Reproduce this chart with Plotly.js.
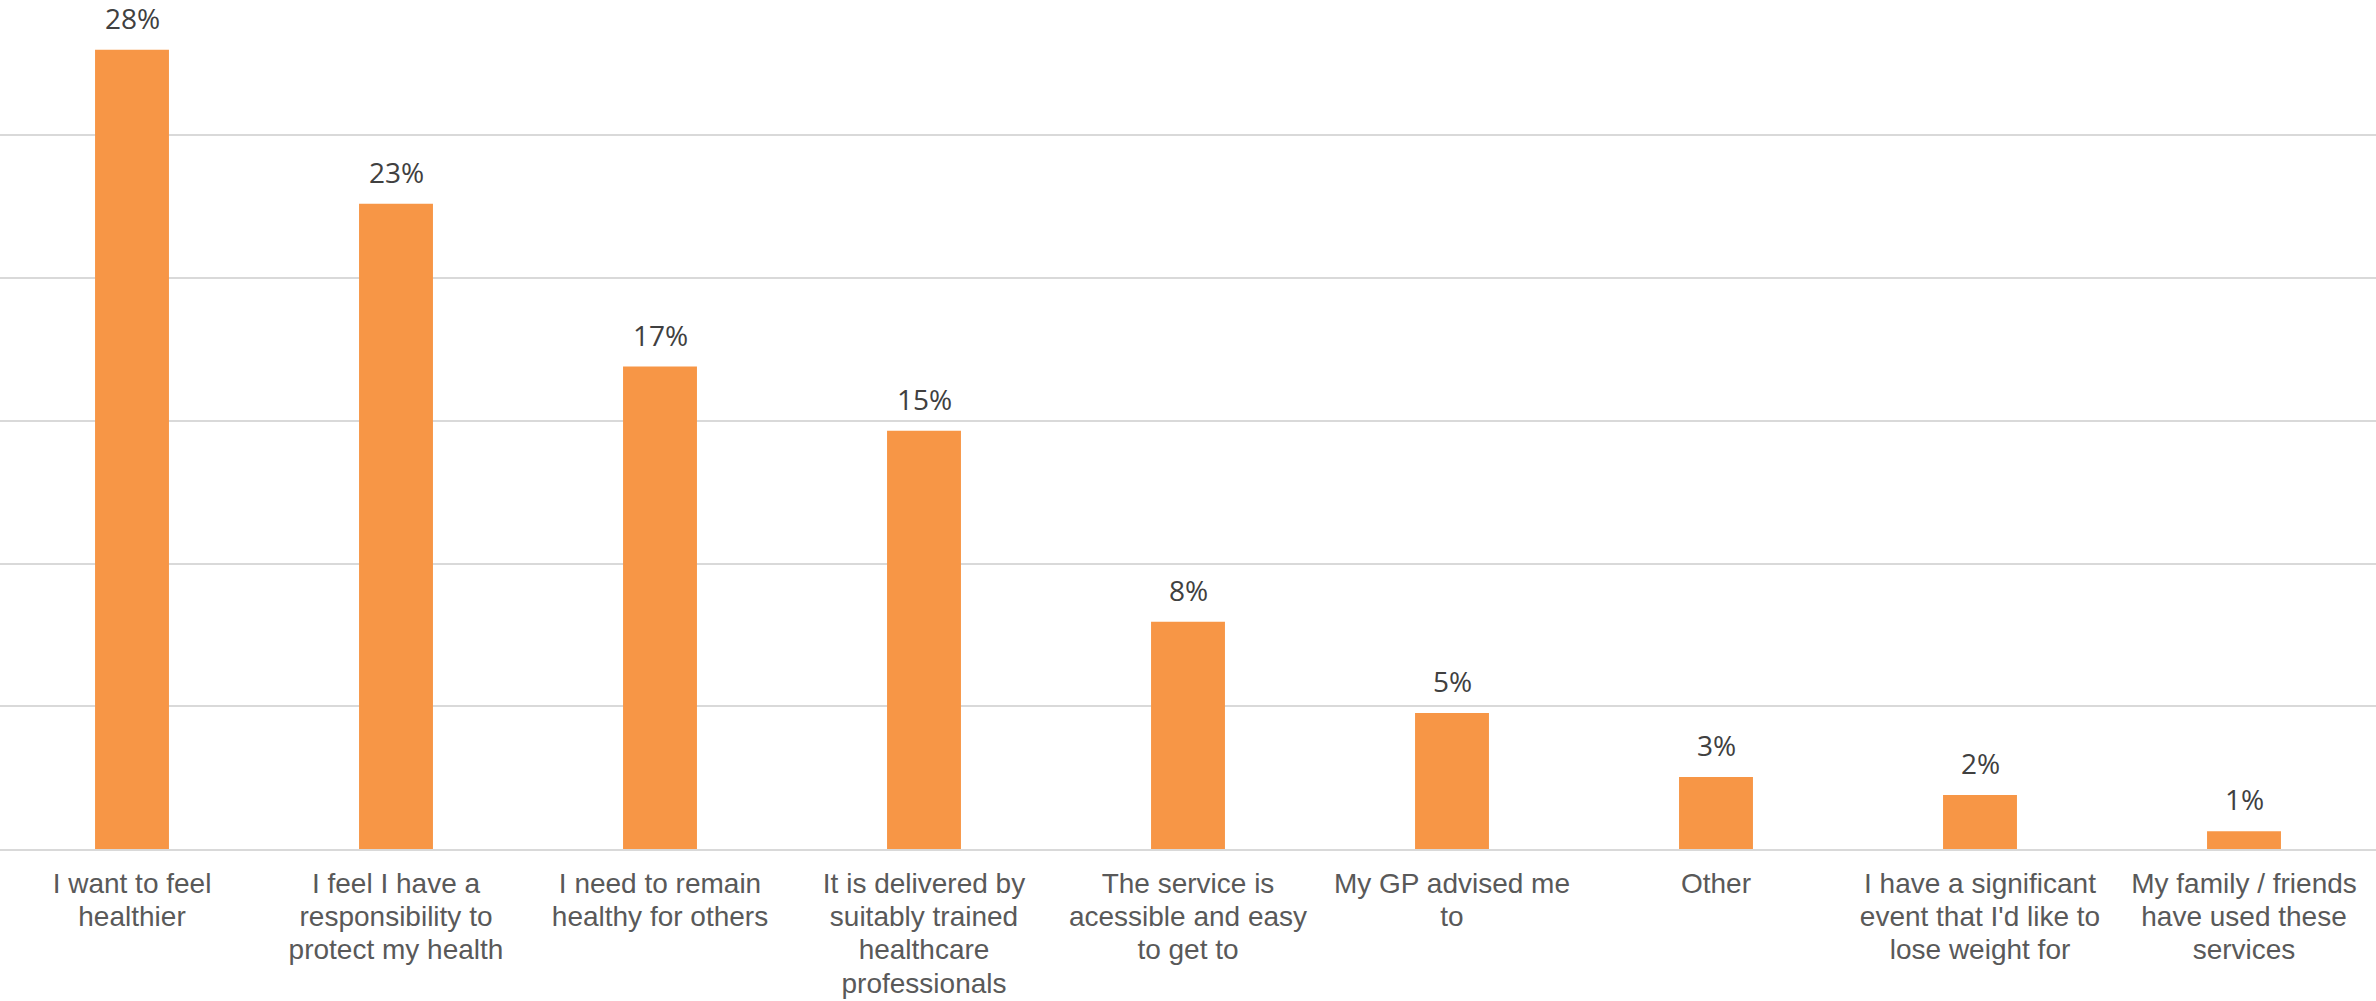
<!DOCTYPE html>
<html>
<head>
<meta charset="utf-8">
<script src="https://cdn.plot.ly/plotly-3.0.1.min.js"></script>
<style>html,body{margin:0;padding:0;background:#fff;}#chart{width:2376px;height:1001px;}</style>
</head>
<body>
<div id="chart"></div>
<script>
const categories = [
  "I want to feel<br>healthier",
  "I feel I have a<br>responsibility to<br>protect my health",
  "I need to remain<br>healthy for others",
  "It is delivered by<br>suitably trained<br>healthcare<br>professionals",
  "The service is<br>acessible and easy<br>to get to",
  "My GP advised me<br>to",
  "Other",
  "I have a significant<br>event that I'd like to<br>lose weight for",
  "My family / friends<br>have used these<br>services"
];
const values = [28.0, 22.6, 16.9, 14.65, 7.96, 4.76, 2.52, 1.89, 0.62];
const valueLabels = ["28%", "23%", "17%", "15%", "8%", "5%", "3%", "2%", "1%"];

const trace = {
  type: 'bar',
  x: categories,
  y: values,
  marker: {color: '#F79646'},
  hoverinfo: 'skip'
};

const annotations = categories.map((c, i) => ({
  x: c, y: values[i], xref: 'x', yref: 'y',
  text: valueLabels[i], showarrow: false,
  yanchor: 'bottom', yshift: 11,
  font: {family: 'Open Sans, sans-serif', size: 28, color: '#404040'}
}));

const layout = {
  width: 2376, height: 1001,
  margin: {l: 0, r: 0, t: 0, b: 152, pad: 0},
  paper_bgcolor: '#ffffff', plot_bgcolor: '#ffffff',
  showlegend: false,
  bargap: 0.72,
  xaxis: {
    type: 'category',
    tickangle: 0,
    ticks: '',
    showgrid: false,
    showline: true, linecolor: '#D9D9D9', linewidth: 2,
    tickfont: {family: 'Liberation Sans, Arial, sans-serif', size: 28, color: '#595959'},
    ticklabelstandoff: 8,
    fixedrange: true
  },
  yaxis: {
    range: [0, 29.74],
    dtick: 5,
    showticklabels: false,
    showgrid: true, gridcolor: '#D9D9D9', gridwidth: 2,
    zeroline: false,
    fixedrange: true
  },
  annotations: annotations
};

Plotly.newPlot('chart', [trace], layout, {displayModeBar: false, staticPlot: true}).then(() => {
  document.querySelectorAll('#chart .xtick text tspan.line').forEach(t => {
    const dy = t.getAttribute('dy');
    if (dy) {
      const v = parseFloat(dy);
      if (v > 0) t.setAttribute('dy', (v / 1.3 * 1.19).toFixed(3) + 'em');
    }
  });
});
</script>
</body>
</html>
